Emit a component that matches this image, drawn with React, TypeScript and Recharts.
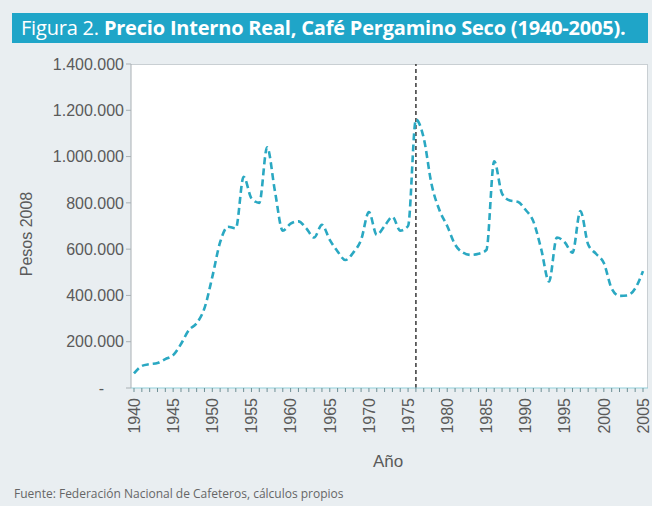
import { CartesianGrid, Line, LineChart, ReferenceLine, XAxis, YAxis } from "recharts";

const YEARS = [
  1940, 1941, 1942, 1943, 1944, 1945, 1946, 1947, 1948, 1949,
  1950, 1951, 1952, 1953, 1954, 1955, 1956, 1957, 1958, 1959,
  1960, 1961, 1962, 1963, 1964, 1965, 1966, 1967, 1968, 1969,
  1970, 1971, 1972, 1973, 1974, 1975, 1976, 1977, 1978, 1979,
  1980, 1981, 1982, 1983, 1984, 1985, 1986, 1987, 1988, 1989,
  1990, 1991, 1992, 1993, 1994, 1995, 1996, 1997, 1998, 1999,
  2000, 2001, 2002, 2003, 2004, 2005,
];

// pesos de 2008
const PRECIO = [
  63000, 95000, 103000, 108000, 125000, 142000, 190000, 250000, 280000, 345000,
  480000, 630000, 697000, 690000, 913000, 820000, 800000, 1040000, 850000, 680000,
  710000, 720000, 690000, 650000, 705000, 640000, 590000, 553000, 585000, 640000,
  760000, 662000, 700000, 740000, 680000, 700000, 1160000, 1080000, 880000, 769000,
  700000, 620000, 585000, 575000, 580000, 596000, 980000, 840000, 810000, 805000,
  770000, 720000, 600000, 460000, 650000, 630000, 585000, 765000, 620000, 580000,
  540000, 430000, 398000, 400000, 430000, 505000,
];

const Y_TICKS = [0, 200000, 400000, 600000, 800000, 1000000, 1200000, 1400000];
const X_LABEL_STEP = 5;
const MARK_YEAR = 1976;

const data = YEARS.map((year, i) => ({ year, precio: PRECIO[i] }));

const TEAL = "#2aa8c2";
const TEXT = "#5a5a5a";
const FONT = '"Liberation Sans", Arial, sans-serif';

const miles = (v: number) => String(v).replace(/\B(?=(\d{3})+(?!\d))/g, ".");

function YearTick({ x, y, payload }: any) {
  const v = Number(payload.value);
  if (v % X_LABEL_STEP !== 0) return null;
  return (
    <g transform={`translate(${x},${y})`}>
      <text
        transform="rotate(-90)"
        x={-4}
        y={0}
        dy="0.36em"
        textAnchor="end"
        fill={TEXT}
        fontSize={16}
        fontFamily={FONT}
      >
        {v}
      </text>
    </g>
  );
}

function PesoTick({ x, y, payload }: any) {
  const v = Number(payload.value);
  return (
    <text
      x={v === 0 ? x - 20 : x}
      y={y}
      dy="0.36em"
      textAnchor="end"
      fill={TEXT}
      fontSize={16}
      fontFamily={FONT}
    >
      {v === 0 ? "-" : miles(v)}
    </text>
  );
}

export default function App() {
  return (
    <div
      style={{
        position: "absolute",
        left: 0,
        top: 0,
        width: 652,
        height: 506,
        background: "#e9eef1",
        overflow: "hidden",
        fontFamily: FONT,
      }}
    >
      <div
        style={{
          position: "absolute",
          left: 12,
          top: 13,
          width: 636,
          height: 30,
          background: "#1fa5c8",
          color: "#fff",
          fontFamily: '"Open Sans", sans-serif',
          fontSize: 20,
          lineHeight: "30px",
          paddingLeft: 9,
          boxSizing: "border-box",
          whiteSpace: "nowrap",
          letterSpacing: -0.2,
        }}
      >
        Figura 2. <b>Precio Interno Real, Café Pergamino Seco (1940-2005).</b>
      </div>
      <div
        style={{
          position: "absolute",
          left: 131,
          top: 64,
          width: 517,
          height: 324,
          background: "#fff",
          borderTop: "1px solid #c9cfd3",
          borderRight: "1px solid #c9cfd3",
          boxSizing: "border-box",
        }}
      />
      <div style={{ position: "absolute", left: 0, top: 0 }}>
        <LineChart
          width={652}
          height={506}
          data={data}
          margin={{ top: 64, right: 4, bottom: 58, left: 11 }}
        >
          <CartesianGrid horizontal={false} vertical={false} />
          <XAxis
            dataKey="year"
            interval={0}
            padding={{ left: 3, right: 5 }}
            height={60}
            tick={<YearTick />}
            tickSize={4}
            stroke="#8fcfda"
            tickLine={{ stroke: "#6f8f95" }}
          />
          <YAxis
            width={120}
            domain={[0, 1400000]}
            ticks={Y_TICKS}
            tick={<PesoTick />}
            tickSize={5}
            stroke="#a9b0b4"
          />
          <ReferenceLine
            x={MARK_YEAR}
            stroke="#444"
            strokeWidth={1.6}
            strokeDasharray="4 3"
          />
          <Line
            type="monotone"
            dataKey="precio"
            stroke={TEAL}
            strokeWidth={2.6}
            strokeDasharray="7 4"
            dot={false}
            isAnimationActive={false}
          />
        </LineChart>
      </div>
      <div
        style={{
          position: "absolute",
          left: 27,
          top: 234,
          transform: "translate(-50%, -50%) rotate(-90deg)",
          color: TEXT,
          fontSize: 16,
          whiteSpace: "nowrap",
        }}
      >
        Pesos 2008
      </div>
      <div
        style={{
          position: "absolute",
          left: 388,
          top: 462,
          transform: "translate(-50%, -50%)",
          color: TEXT,
          fontSize: 17,
        }}
      >
        Año
      </div>
      <div
        style={{
          position: "absolute",
          left: 14,
          top: 485,
          color: "#666",
          fontFamily: '"Open Sans", sans-serif',
          fontSize: 12,
          whiteSpace: "nowrap",
        }}
      >
        Fuente: Federación Nacional de Cafeteros, cálculos propios
      </div>
    </div>
  );
}
